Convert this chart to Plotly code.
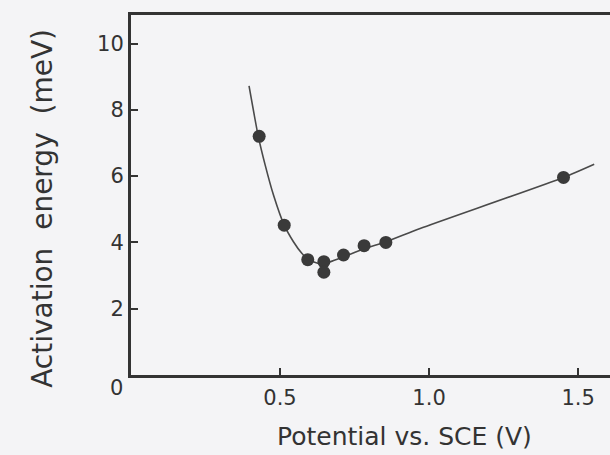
import plotly.graph_objects as go

# Measured data points
potential = [0.430, 0.514, 0.593, 0.647, 0.647, 0.713, 0.782, 0.855, 1.451]
activation = [7.20, 4.52, 3.48, 3.42, 3.10, 3.62, 3.90, 4.00, 5.96]

# Fitted guide curve
fit_x = [0.396, 0.427, 0.450, 0.478, 0.514, 0.545, 0.573, 0.595, 0.634, 0.670, 0.712, 0.780, 0.856, 0.970, 1.451, 1.554]
fit_y = [8.72, 7.20, 6.34, 5.43, 4.52, 4.02, 3.67, 3.48, 3.36, 3.42, 3.56, 3.80, 4.02, 4.42, 5.96, 6.36]

x_ticks = [0.5, 1.0, 1.5]
x_labels = ["0.5", "1.0", "1.5"]
y_ticks = [2, 4, 6, 8, 10]
y_labels = ["2", "4", "6", "8", "10"]

ink = "#333333"
bg = "#f4f4f6"
font = "DejaVu Sans"

fig = go.Figure()
fig.add_trace(go.Scatter(x=fit_x, y=fit_y, mode="lines",
                         line=dict(color="#4a4a4a", width=1.6, shape="spline", smoothing=0.6),
                         hoverinfo="skip", showlegend=False))
fig.add_trace(go.Scatter(x=potential, y=activation, mode="markers",
                         marker=dict(color="#3a3a3a", size=13, line=dict(width=0)),
                         showlegend=False))

fig.update_layout(
    width=610, height=455,
    margin=dict(l=131, r=0, t=15, b=80),
    paper_bgcolor=bg, plot_bgcolor=bg,
    font=dict(family=font, color=ink, size=21),
    xaxis=dict(range=[0, 1.607], tickvals=x_ticks, ticktext=x_labels,
               showgrid=False, zeroline=False, showline=True, linecolor=ink, linewidth=3,
               mirror=True, ticks="inside", ticklen=7, tickwidth=2, tickcolor=ink,
               ticklabelstandoff=2,
               tickfont=dict(family=font, size=21, color=ink)),
    yaxis=dict(range=[0, 10.86], tickvals=y_ticks, ticktext=y_labels,
               showgrid=False, zeroline=False, showline=True, linecolor=ink, linewidth=3,
               ticks="inside", ticklen=7, tickwidth=2, tickcolor=ink,
               ticklabelstandoff=0,
               tickfont=dict(family=font, size=21, color=ink)),
    annotations=[
        dict(x=0, y=0, xref="x", yref="y", text="0", showarrow=False,
             xanchor="right", yanchor="middle", xshift=-6, yshift=-13,
             font=dict(family=font, size=21, color=ink)),
        dict(x=-0.184, y=0.464, xref="paper", yref="paper", text="Activation  energy  (meV)",
             showarrow=False, textangle=-90, xanchor="center", yanchor="middle",
             font=dict(family=font, size=28, color=ink)),
        dict(x=0.571, y=-0.172, xref="paper", yref="paper", text="Potential vs. SCE (V)",
             showarrow=False, xanchor="center", yanchor="middle",
             font=dict(family=font, size=25, color=ink)),
    ],
)

fig.write_html("out.html")
